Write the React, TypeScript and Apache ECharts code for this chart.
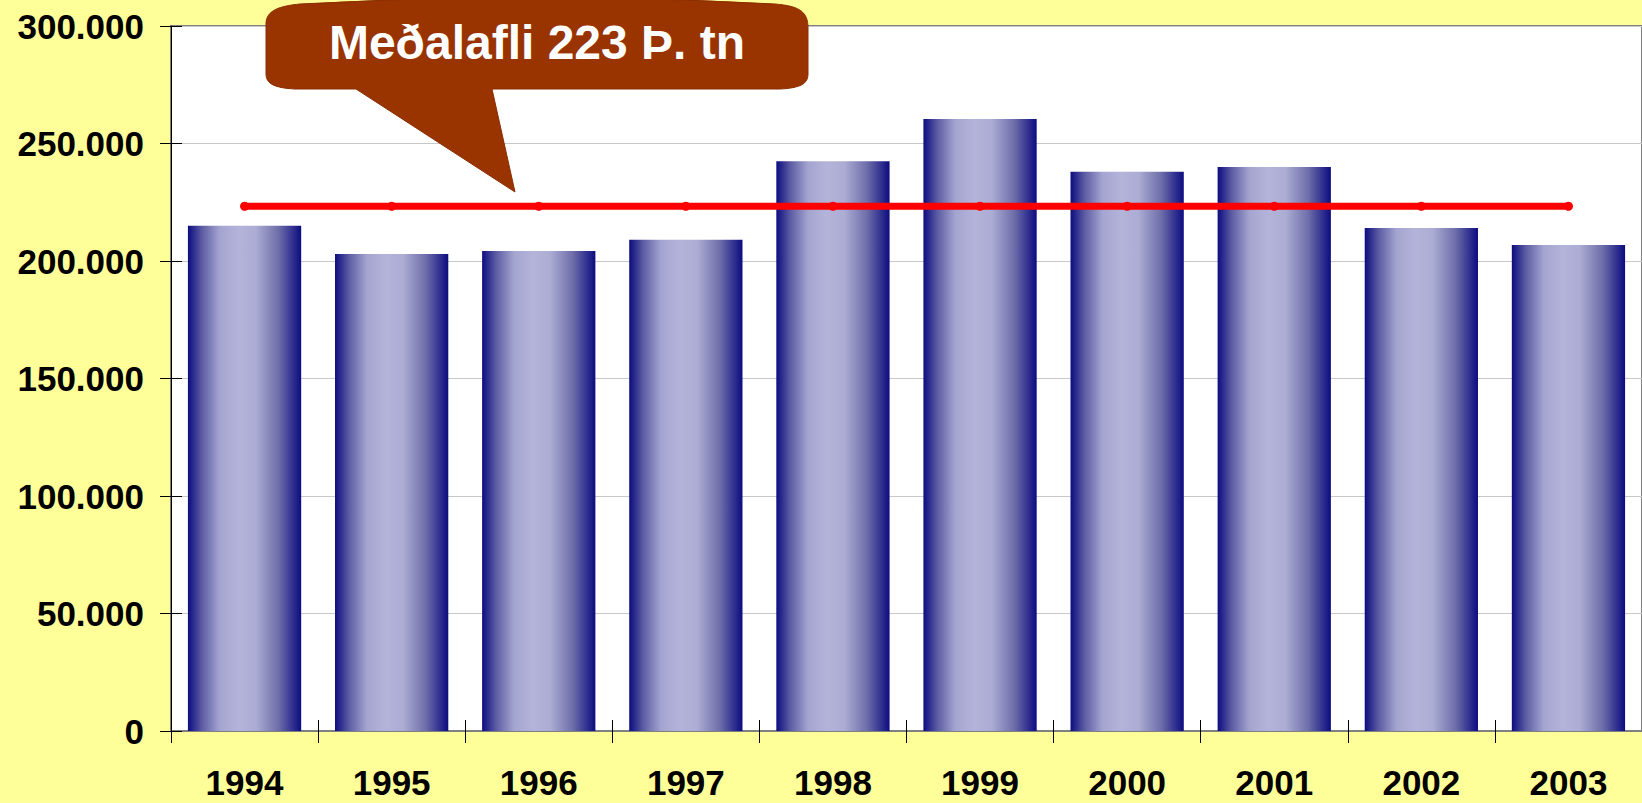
import React, { useEffect, useRef } from "react";
import * as echarts from "echarts";

const years = ["1994", "1995", "1996", "1997", "1998", "1999", "2000", "2001", "2002", "2003"];
const catch_tonnes = [215000, 203000, 204300, 209000, 242500, 260400, 238000, 240000, 214000, 206800];
const meanLine = [223300, 223300, 223300, 223300, 223300, 223300, 223300, 223300, 223300, 223300];
const calloutText = "Meðalafli 223 Þ. tn";

const FONT = "'Liberation Sans', Arial, sans-serif";

const calloutPath =
  "M 266 24 C 266 10 280 6 300 4 Q 537 -10 775 4 C 800 6 808 12 808 28 L 808 74 C 808 84 800 88 780 89 L 492 89 L 515 192 L 356 89 L 295 89 C 275 88 266 84 266 74 Z";

let registered = false;

export default function App() {
  const ref = useRef<HTMLDivElement>(null);
  useEffect(() => {
    if (!registered) {
      echarts.graphic.registerShape("callout", echarts.graphic.extendPath(calloutPath, {}));
      registered = true;
    }
    const chart = echarts.init(ref.current!, undefined, { renderer: "svg" });
    const fmt = (v: number) => {
      if (v === 0) return "0";
      const s = String(Math.round(v));
      return s.replace(/\B(?=(\d{3})+(?!\d))/g, ".");
    };
    const barGradient = new echarts.graphic.LinearGradient(0, 0, 1, 0, [
      { offset: 0, color: "#0c0c80" },
      { offset: 0.12, color: "#5a5aa2" },
      { offset: 0.28, color: "#a4a4d0" },
      { offset: 0.45, color: "#b4b4da" },
      { offset: 0.6, color: "#acacd4" },
      { offset: 0.8, color: "#6e6eaa" },
      { offset: 1, color: "#0c0c80" },
    ]);
    chart.setOption({
      animation: false,
      backgroundColor: "#ffff99",
      grid: {
        left: 171,
        top: 26,
        right: 0,
        bottom: 72,
        show: true,
        backgroundColor: "#ffffff",
        borderColor: "#808080",
        borderWidth: 2,
      },
      xAxis: [
        {
          type: "category",
          data: years,
          axisLine: { show: true, lineStyle: { color: "#808080", width: 2 } },
          axisTick: { show: true, length: 12, lineStyle: { color: "#000", width: 1 } },
          axisLabel: {
            color: "#000",
            fontFamily: FONT,
            fontWeight: "bold",
            fontSize: 35,
            margin: 34,
          },
        },
        {
          type: "category",
          data: years,
          position: "bottom",
          axisLine: { show: false },
          axisTick: { show: true, inside: true, length: 11, lineStyle: { color: "#000", width: 1 } },
          axisLabel: { show: false },
        },
      ],
      yAxis: [
        {
          type: "value",
          min: 0,
          max: 300000,
          interval: 50000,
          axisLine: { show: true, lineStyle: { color: "#000", width: 1 } },
          axisTick: { show: true, length: 11, lineStyle: { color: "#000", width: 1 } },
          splitLine: { show: true, lineStyle: { color: "#c8c8c8", width: 1 } },
          axisLabel: {
            color: "#000",
            fontFamily: FONT,
            fontWeight: "bold",
            fontSize: 35,
            margin: 27,
            formatter: fmt,
          },
        },
        {
          type: "value",
          min: 0,
          max: 300000,
          interval: 50000,
          position: "left",
          axisLine: { show: false },
          axisTick: { show: true, inside: true, length: 11, lineStyle: { color: "#000", width: 1 } },
          splitLine: { show: false },
          axisLabel: { show: false },
        },
      ],
      series: [
        {
          type: "bar",
          data: catch_tonnes,
          barCategoryGap: "23%",
          itemStyle: { color: barGradient },
        },
        {
          type: "line",
          data: meanLine,
          symbol: "circle",
          symbolSize: 9,
          itemStyle: { color: "#ff0000" },
          lineStyle: { color: "#ff0000", width: 7, cap: "round" },
          z: 5,
        },
      ],
      graphic: [
        {
          type: "callout",
          x: 0,
          y: 0,
          z: 100,
          style: { fill: "#993300", stroke: "#8a2e00", lineWidth: 1 },
        },
        {
          type: "text",
          x: 537,
          y: 42,
          z: 101,
          style: {
            text: calloutText,
            fill: "#ffffff",
            font: `bold 48px ${FONT}`,
            textAlign: "center",
            textVerticalAlign: "middle",
          },
        },
      ],
    });
    return () => chart.dispose();
  }, []);
  return (
    <div
      ref={ref}
      style={{ position: "fixed", left: 0, top: 0, width: 1642, height: 803 }}
    />
  );
}
